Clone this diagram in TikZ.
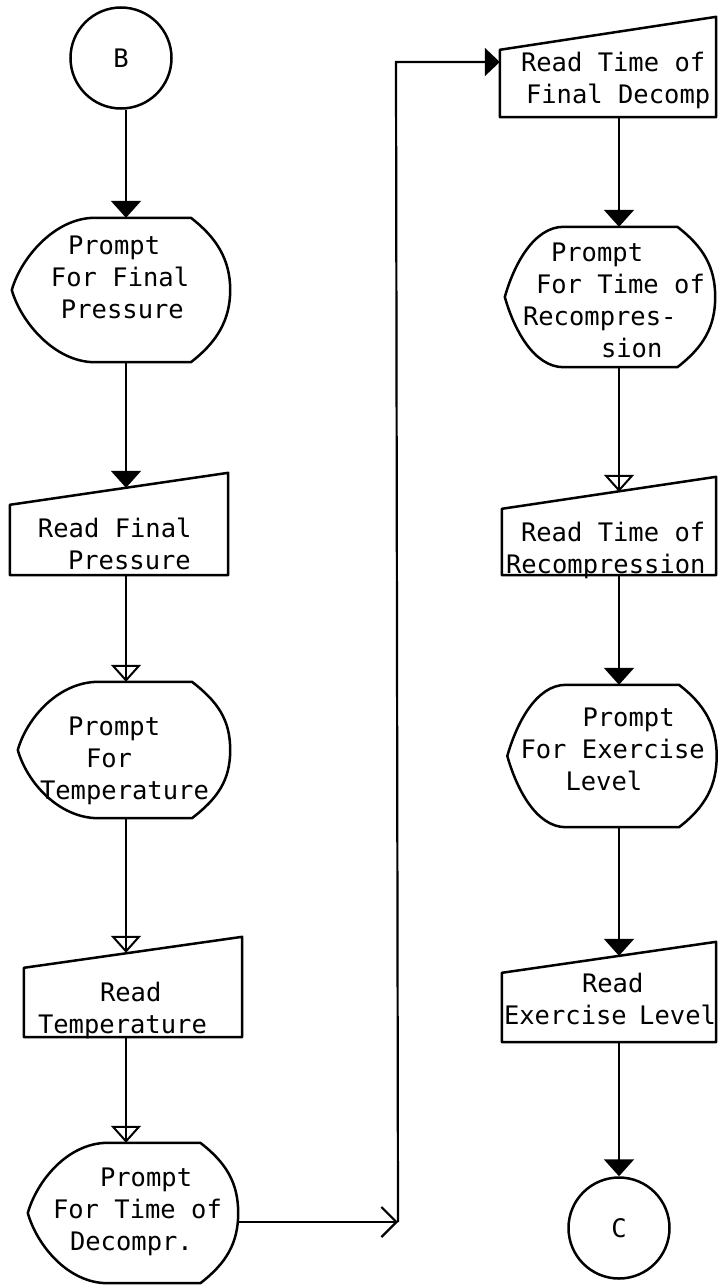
\documentclass[tikz,border=0pt]{standalone}
\usepackage{fontspec}
\newfontfamily\flowfont{DejaVu Sans Mono}
\usetikzlibrary{arrows.meta,calc}

% one line of a symbol's text, indented by #1 pt from the symbol's left edge
\newcommand{\flowline}[2]{\hspace*{#1pt}\strut #2\par}
% text block of a symbol: width #1, height #2, first line lowered by #3
\newcommand{\symbox}[4]{\parbox[c][#2pt][t]{#1pt}{\vspace*{#3pt}#4}}

% display (prompt) symbol: flat top and bottom, pointed left, rounded right
% #1 node, #2 fraction where the flat edges begin, #3 pull of the left curves
\newcommand{\displayoutline}[3]{%
  \draw[symline]
    ($(#1.north west)!#2!(#1.north east)$)
    -- ($(#1.north west)!0.82!(#1.north east)$)
    .. controls +(26,20) and +(0,-30) .. (#1.east)
    .. controls +(0,30) and +(26,-20) .. ($(#1.south west)!0.82!(#1.south east)$)
    -- ($(#1.south west)!#2!(#1.south east)$)
    .. controls +(-#3,0) and +(9,32) .. (#1.west)
    .. controls +(9,-32) and +(-#3,0) .. cycle;}

% manual input symbol: top edge rising to the right, #2 is the drop on the left
\newcommand{\manualoutline}[2]{%
  \draw[symline] ($(#1.north west)+(0,#2)$) -- (#1.north east)
    -- (#1.south east) -- (#1.south west) -- cycle;}

\tikzset{
  symline/.style={line width=2.5pt, line join=round},
  sym/.style={inner sep=0pt, font=\flowfont\fontsize{25.5}{32}\selectfont},
  connector/.style={line width=2.2pt, draw=black},
  terminal/.style={circle, draw, line width=2.5pt, minimum size=101pt, inner sep=0pt,
                   font=\flowfont\fontsize{25.5}{32}\selectfont},
  solidtip/.style={-{Triangle[width=30pt,length=17pt]}},
  hollowtip/.style={postaction={draw,-{Triangle[open,width=30pt,length=17pt,line width=2pt]}}},
  barbtip/.style={-{Straight Barb[width=30pt,length=15pt,line width=2.2pt]}},
  entrytip/.style={-{Triangle[width=28pt,length=15pt]}},
}

\begin{document}
\begin{tikzpicture}[x=1pt,y=-1pt]
\useasboundingbox (0,0) rectangle (718,1285);

\coordinate (colL) at (126,0);
\coordinate (colR) at (619,0);

% left column
\node[terminal] (B) at (121,58) {B};

\node[sym] (d1) at (121,290)
  {\symbox{218}{144}{14}{\flowline{56}{Prompt}\flowline{39}{For Final}\flowline{49}{Pressure}}};
\displayoutline{d1}{0.38}{40}

\node[sym] (m1) at (119,524)
  {\symbox{218}{102}{42}{\flowline{28}{Read Final}\flowline{58}{Pressure}}};
\manualoutline{m1}{32}

\node[sym] (d2) at (124,750)
  {\symbox{212}{136}{31}{\flowline{50}{Prompt}\flowline{68}{For}\flowline{22}{Temperature}}};
\displayoutline{d2}{0.38}{40}

\node[sym] (m2) at (133,987)
  {\symbox{218}{100}{42}{\flowline{76}{Read}\flowline{14}{Temperature}}};
\manualoutline{m2}{31}

\node[sym] (d3) at (133,1213)
  {\symbox{210}{140}{21}{\flowline{72}{Prompt}\flowline{25}{For Time of}\flowline{42}{Decompr.}}};
\displayoutline{d3}{0.38}{40}

% right column
\node[sym] (m3) at (608,67)
  {\symbox{216}{100}{32}{\flowline{21}{Read Time of}\flowline{26}{Final Decomp}}};
\manualoutline{m3}{33}

\node[sym] (d4) at (610,297)
  {\symbox{210}{140}{12}{\flowline{46}{Prompt}\flowline{31}{For Time of}\flowline{18}{Recompres-}\flowline{96}{sion}}};
\displayoutline{d4}{0.28}{30}

\node[sym] (m4) at (609,526)
  {\symbox{214}{98}{42}{\flowline{19}{Read Time of}\flowline{4}{Recompression}}};
\manualoutline{m4}{32}

\node[sym] (d5) at (612,756)
  {\symbox{209}{142}{19}{\flowline{75}{Prompt}\flowline{13}{For Exercise}\flowline{58}{Level}}};
\displayoutline{d5}{0.28}{30}

\node[sym] (m5) at (609,992)
  {\symbox{214}{100}{28}{\flowline{80}{Read}\flowline{2}{Exercise Level}}};
\manualoutline{m5}{31}

\node[terminal] (C) at (619,1228) {C};

% connectors, left column
\draw[connector,solidtip] (colL |- B.south) -- (colL |- d1.north);
\draw[connector,solidtip] (colL |- d1.south) -- ($(colL |- m1.north)+(0,15)$);
\draw[connector,hollowtip] (colL |- m1.south) -- (colL |- d2.north);
\draw[connector,hollowtip] (colL |- d2.south) -- ($(colL |- m2.north)+(0,16)$);
\draw[connector,hollowtip] (colL |- m2.south) -- (colL |- d3.north);

% crossover to the right column
\coordinate (turnA) at (398,1222);
\coordinate (turnB) at (396,62);
\draw[connector,barbtip] (d3.east |- turnA) -- (turnA);
\draw[connector,entrytip] (turnA) -- (turnB) -- (m3.west |- turnB);

% connectors, right column
\draw[connector,solidtip] (colR |- m3.south) -- (colR |- d4.north);
\draw[connector,hollowtip] (colR |- d4.south) -- ($(colR |- m4.north)+(0,15)$);
\draw[connector,solidtip] (colR |- m4.south) -- (colR |- d5.north);
\draw[connector,solidtip] (colR |- d5.south) -- ($(colR |- m5.north)+(0,14)$);
\draw[connector,solidtip] (colR |- m5.south) -- (C.north);
\end{tikzpicture}
\end{document}
